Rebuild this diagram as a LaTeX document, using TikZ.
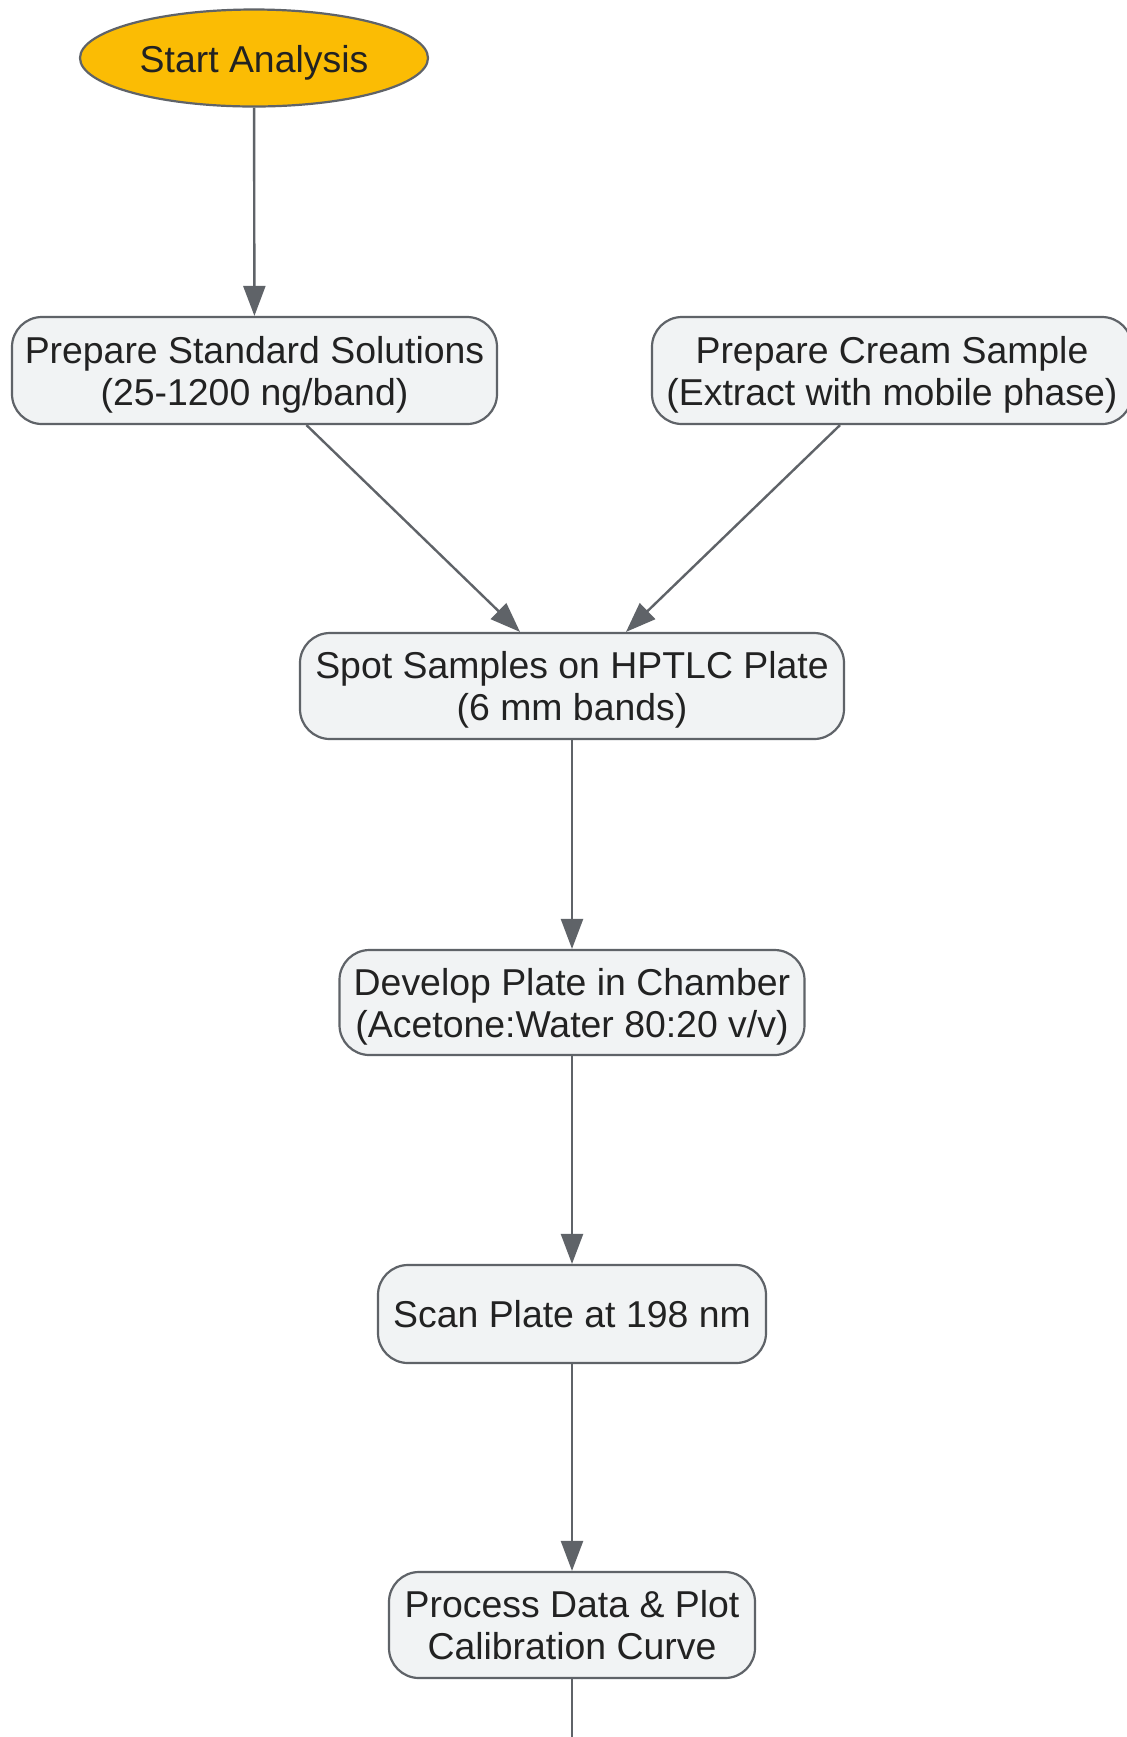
\documentclass[tikz,border=0pt]{standalone}
\usepackage{fontspec}
\setmainfont{Liberation Sans}
\usetikzlibrary{positioning,arrows.meta,shapes.geometric}
\definecolor{edgegray}{HTML}{5F6368}
\definecolor{boxfill}{HTML}{F1F3F4}
\definecolor{startfill}{HTML}{FBBC04}
\definecolor{inkgray}{HTML}{222222}

\begin{document}
\begin{tikzpicture}[x=0.5pt, y=-0.5pt,
        stepbox/.style={draw=edgegray, line width=1.1pt, fill=boxfill, rounded corners=15pt,
            align=center, text=inkgray, inner sep=0pt, font=\fontsize{18.7}{21}\selectfont},
        twoline/.style={stepbox, text depth=-1pt},
        startnode/.style={ellipse, draw=edgegray, line width=1.1pt, fill=startfill, text=inkgray,
            inner sep=0pt, font=\fontsize{18.7}{21}\selectfont, execute at begin node={\rule{0pt}{18.8pt}}},
        flow/.style={edgegray, line width=1.2pt, -{Triangle[width=11pt,length=15pt]}}]
                % Page
                \fill[white] (0,0) rectangle (1126,1737);
                \useasboundingbox (0,0) rectangle (1126,1737);

                % Start
                \node[startnode, minimum width=174pt, minimum height=48.5pt] (start) at (254,58) {Start Analysis};

                % Preparation boxes
                \node[twoline, minimum width=242.5pt, minimum height=53.5pt] (std) at (254.5,370.5) {Prepare Standard Solutions\\(25-1200 ng/band)};
                \node[twoline, minimum width=240pt, minimum height=53.5pt] (cream) at (892,370.5) {Prepare Cream Sample\\(Extract with mobile phase)};

                % Plate steps
                \node[twoline, minimum width=272pt, minimum height=53pt] (spot) at (572,686) {Spot Samples on HPTLC Plate\\(6 mm bands)};
                \node[twoline, minimum width=232.5pt, minimum height=52.5pt] (develop) at (572,1002.5) {Develop Plate in Chamber\\(Acetone:Water 80:20 v/v)};
                \node[stepbox, minimum width=194pt, minimum height=49pt] (scan) at (572,1314) {Scan Plate at 198 nm};
                \node[twoline, minimum width=183pt, minimum height=53pt] (process) at (572,1625) {Process Data \& Plot\\Calibration Curve};
                \coordinate (tail) at (572,1745);

                % Arrows
                \draw[flow] (start) -- (std);
                \draw[flow] ([xshift=26pt]std.south) -- ([xshift=-26pt]spot.north);
                \draw[flow] ([xshift=-26pt]cream.south) -- ([xshift=27pt]spot.north);
                \draw[flow] (spot) -- (develop);
                \draw[flow] (develop) -- (scan);
                \draw[flow] (scan) -- (process);
                \draw[edgegray, line width=1.2pt] (process) -- (tail);
            \end{tikzpicture}
\end{document}
